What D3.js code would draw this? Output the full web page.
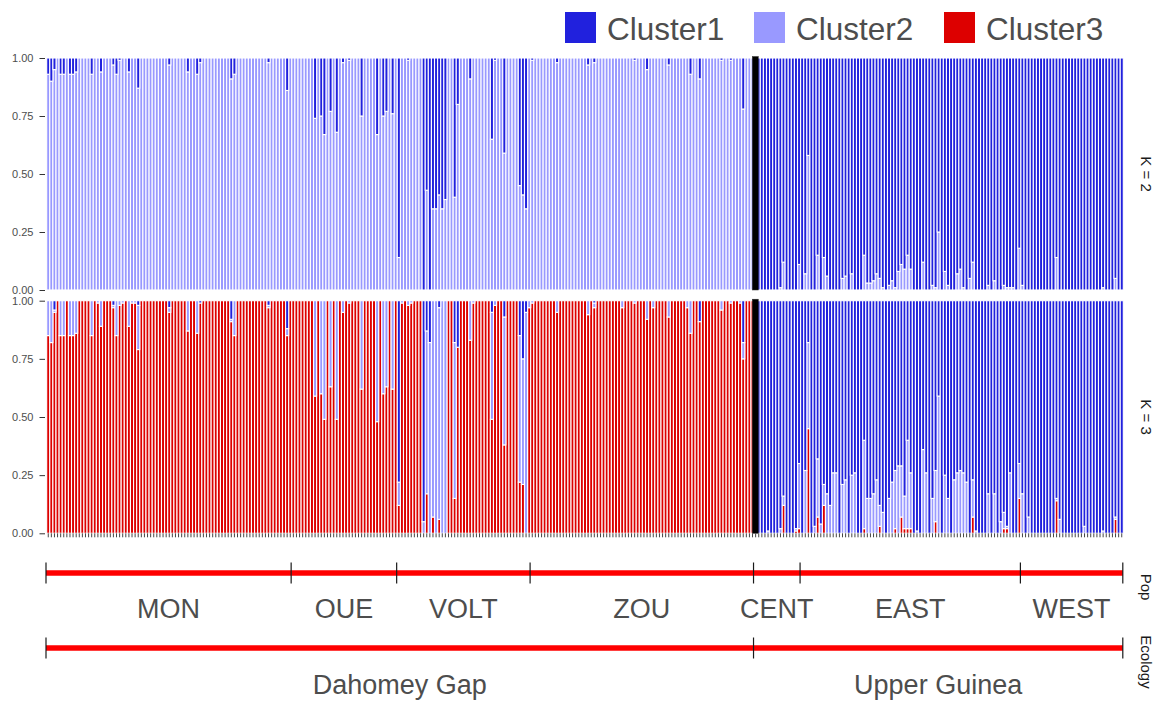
<!DOCTYPE html>
<html>
<head>
<meta charset="utf-8">
<script src="https://cdn.jsdelivr.net/npm/d3@7"></script>
<style>
  body { margin: 0; background: #fff; }
  svg { display: block; }
  text { font-family: "Liberation Sans", Arial, Helvetica, sans-serif; }
</style>
</head>
<body>
<svg id="chart" width="1165" height="702"></svg>
<script>
// ---- data ---------------------------------------------------------------
const clusterNames = ["Cluster1", "Cluster2", "Cluster3"];
const clusterColors = ["#2121DD", "#9999FF", "#DD0000"];
const popNames = ["MON", "OUE", "VOLT", "ZOU", "CENT", "EAST", "WEST"];
const popSizes = [79, 34, 43, 72, 15, 71, 33];
const ecoNames = ["Dahomey Gap", "Upper Guinea"];
const ecoSizes = [228, 119];
const yTickValues = [0, 0.25, 0.5, 0.75, 1];
const panelLabels = ["K = 2", "K = 3"];

// K = 2 membership, one value per individual (MON, OUE, VOLT, ZOU, CENT, EAST, WEST)
const k2Cluster1 = [
  0.07,0.10,0.05,0,0.07,0.07,0,0.07,0.07,0.06, 0,0,0,0,0.07,0,0,0.06,0,0,
  0,0.03,0.07,0.01,0,0,0.06,0,0,0.13, 0,0,0,0,0,0,0,0,0,0.03,
  0,0,0,0,0,0.06,0,0,0.07,0.02, 0,0,0,0,0,0,0,0,0,0.09,
  0.07,0,0,0,0,0,0,0,0,0, 0,0.02,0,0,0,0,0,0.14,0,
  0,0,0,0,0,0,0,0.26,0,0.25, 0.33,0,0.23,0,0.32,0,0.02,0,0.01,0,
  0,0,0.25,0,0,0,0,0.33,0,0.25, 0.23,0,0.24,0,
  0.86,0,0,0.01,0,0,0,0,1,0.57, 1,0.65,0.65,0.59,0.65,0.61,0,0,0.60,0.20,
  0,0,0,0.09,0,0,0,0,0,0, 0.35,0.01,0,0,0.41,0,0,0,0,0.55, 0.59,0.65,0,
  0.01,0,0,0,0,0,0,0,0.02,0, 0,0,0,0,0,0,0,0,0.03,0,
  0.02,0,0,0,0,0,0,0,0,0, 0,0,0,0.01,0,0,0,0.05,0,0,
  0,0,0,0,0.03,0,0,0,0,0, 0,0.07,0,0,0.09,0,0,0,0,0,
  0,0.01,0,0,0.01,0,0,0,0.22,0, 0,0,
  1,1,1,1,1,1,1,1,0.99,0.88, 1,1,1,1,0.89,
  1,0.93,0.42,1,1,0.85,1,0.86,0.94,1, 1,1,1,0.95,0.94,1,0.93,1,1,1,
  0.85,0.97,0.97,0.96,0.93,0.95,0.99,1,0.98,0.96, 0.99,0.92,0.89,0.91,0.85,0.91,1,1,1,0.88,
  1,1,0.98,0.99,0.75,1,0.92,0.98,1,1, 0.93,0.91,0.99,1,0.95,0.88,1,1,1,1,
  0.98,1,0.96,1,1,0.98,0.99,0.99,0.99,1, 0.82,
  0.98,1,1,1,1,1,1,1,1,1, 1,0.86,1,1,1,1,1,1,1,1,
  1,1,1,1,1,1,0.99,1,1,1, 0.95,1,1
];
const k2Cluster2 = [
  0.93,0.90,0.95,1,0.93,0.93,1,0.93,0.93,0.94, 1,1,1,1,0.93,1,1,0.94,1,1,
  1,0.97,0.93,0.99,1,1,0.94,1,1,0.87, 1,1,1,1,1,1,1,1,1,0.97,
  1,1,1,1,1,0.94,1,1,0.93,0.98, 1,1,1,1,1,1,1,1,1,0.91,
  0.93,1,1,1,1,1,1,1,1,1, 1,0.98,1,1,1,1,1,0.86,1,
  1,1,1,1,1,1,1,0.74,1,0.75, 0.67,1,0.77,1,0.68,1,0.98,1,0.99,1,
  1,1,0.75,1,1,1,1,0.67,1,0.75, 0.77,1,0.76,1,
  0.14,1,1,0.99,1,1,1,1,0,0.43, 0,0.35,0.35,0.41,0.35,0.39,1,1,0.40,0.80,
  1,1,1,0.91,1,1,1,1,1,1, 0.65,0.99,1,1,0.59,1,1,1,1,0.45, 0.41,0.35,1,
  0.99,1,1,1,1,1,1,1,0.98,1, 1,1,1,1,1,1,1,1,0.97,1,
  0.98,1,1,1,1,1,1,1,1,1, 1,1,1,0.99,1,1,1,0.95,1,1,
  1,1,1,1,0.97,1,1,1,1,1, 1,0.93,1,1,0.91,1,1,1,1,1,
  1,0.99,1,1,0.99,1,1,1,0.78,1, 1,1,
  0,0,0,0,0,0,0,0,0.01,0.12, 0,0,0,0,0.11,
  0,0.07,0.58,0,0,0.15,0,0.14,0.06,0, 0,0,0,0.05,0.06,0,0.07,0,0,0,
  0.15,0.03,0.03,0.04,0.07,0.05,0.01,0,0.02,0.04, 0.01,0.08,0.11,0.09,0.15,0.09,0,0,0,0.12,
  0,0,0.02,0.01,0.25,0,0.08,0.02,0,0, 0.07,0.09,0.01,0,0.05,0.12,0,0,0,0,
  0.02,0,0.04,0,0,0.02,0.01,0.01,0.01,0, 0.18,
  0.02,0,0,0,0,0,0,0,0,0, 0,0.14,0,0,0,0,0,0,0,0,
  0,0,0,0,0,0,0.01,0,0,0, 0.05,0,0
];

// K = 3 membership
const k3Cluster1 = [
  0,0,0.04,0,0,0,0,0,0,0, 0,0,0,0,0,0,0,0,0,0,
  0,0.02,0,0,0,0,0,0,0,0.02, 0,0,0,0,0,0,0,0,0,0.03,
  0,0,0,0,0,0,0,0,0,0.01, 0,0,0,0,0,0,0,0,0,0.08,
  0,0,0,0,0,0,0,0,0,0, 0,0.02,0,0,0,0,0,0.12,0,
  0,0,0,0,0,0,0,0,0,0, 0,0,0,0,0,0,0,0,0,0,
  0,0,0,0,0,0,0,0,0,0, 0,0,0,0,
  0.78,0,0,0,0,0,0,0,0.95,0.13, 0.18,0,0,0.03,0,0,0,0,0.18,0.20,
  0,0,0,0,0,0,0,0,0,0, 0.05,0,0,0,0.07,0,0,0,0,0.15, 0.25,0.05,0,
  0,0,0,0,0,0,0,0,0,0, 0,0,0,0,0,0,0,0,0,0,
  0.01,0,0,0,0,0,0,0,0,0, 0,0,0,0,0,0,0,0,0,0,
  0,0,0,0,0,0,0,0,0,0, 0,0,0,0,0.09,0,0,0,0,0,
  0,0,0,0,0,0,0,0,0.18,0, 0,0,
  1,1,1,1,0.99,1,1,1,0.98,0.84, 1,1,1,0.98,0.70,
  1,0.73,0.18,1,0.97,0.68,0.96,0.79,0.83,0.88, 0.74,0.74,1,0.79,0.77,1,0.75,0.74,1,1,
  0.60,0.85,0.85,0.83,0.77,0.88,0.91,1,0.85,0.78, 0.73,0.71,0.71,0.84,0.60,0.74,1,0.99,1,0.64,
  0.74,1,0.85,0.73,0.41,1,0.75,0.85,1,0.77, 0.74,0.73,0.74,0.78,1,0.77,0.99,1,1,1,
  0.83,1,0.83,1,0.95,0.91,0.97,0.74,1,1, 0.70,
  0.83,1,0.93,1,1,1,1,1,1,1, 1,0.85,0.94,1,1,1,1,1,1,1,
  0.97,1,1,1,1,1,0.99,1,1,1, 0.93,1,1
];
const k3Cluster2 = [
  0.15,0.18,0.01,0,0.15,0.15,0,0.15,0.15,0.14, 0,0,0,0,0.15,0,0.01,0.11,0,0,
  0,0.01,0.15,0.02,0.01,0,0.11,0.01,0.01,0.19, 0,0,0,0,0,0,0,0,0,0.02,
  0,0,0,0,0,0.13,0,0,0.14,0, 0,0,0,0,0,0,0,0,0,0.01,
  0.15,0,0,0,0,0,0,0,0,0, 0,0.01,0,0,0,0,0,0.03,0,
  0,0,0,0,0,0,0,0.41,0,0.40, 0.51,0,0.37,0,0.51,0,0.05,0,0.01,0,
  0,0,0.38,0,0,0,0,0.52,0,0.40, 0.37,0,0.38,0,
  0.10,0.01,0,0.02,0.01,0,0,0,0.05,0.70, 0.82,0.93,1,0.91,1,1,0,0,0.67,0,
  0,0,0,0.17,0.01,0,0,0,0,0, 0.46,0.02,0,0,0.55,0,0,0,0,0.63, 0.54,0.95,0.03,
  0.01,0,0,0,0,0,0,0,0.05,0, 0,0,0,0,0,0,0,0,0.06,0,
  0.02,0,0,0,0,0,0,0,0,0.03, 0,0,0,0.01,0,0,0,0.08,0,0.03,
  0,0,0,0,0.07,0,0,0,0,0, 0.03,0.14,0,0,0,0,0,0,0,0,
  0,0.04,0,0,0.01,0,0,0.01,0.07,0, 0,0,
  0,0,0,0,0.01,0,0,0,0.02,0.04, 0,0,0,0.01,0.28,
  0,0.27,0.37,0,0.03,0.25,0.04,0.09,0.17,0.12, 0.26,0.26,0,0.21,0.23,0,0.25,0.26,0,0,
  0.38,0.15,0.15,0.17,0.23,0.09,0.09,0,0.15,0.22, 0.25,0.29,0.22,0.14,0.38,0.24,0,0.01,0,0.36,
  0.26,0,0.15,0.22,0.59,0,0.25,0.15,0,0.23, 0.26,0.27,0.26,0.22,0,0.16,0.01,0,0,0,
  0.17,0,0.17,0,0.05,0.07,0.01,0.26,0,0, 0.15,
  0.17,0,0.07,0,0,0,0,0,0,0, 0,0.01,0.06,0,0,0,0,0,0,0,
  0.03,0,0,0,0,0,0.01,0,0,0, 0.01,0,0
];
const k3Cluster3 = [
  0.85,0.82,0.95,1,0.85,0.85,1,0.85,0.85,0.86, 1,1,1,1,0.85,1,0.99,0.89,1,1,
  1,0.97,0.85,0.98,0.99,1,0.89,0.99,0.99,0.79, 1,1,1,1,1,1,1,1,1,0.95,
  1,1,1,1,1,0.87,1,1,0.86,0.99, 1,1,1,1,1,1,1,1,1,0.91,
  0.85,1,1,1,1,1,1,1,1,1, 1,0.97,1,1,1,1,1,0.85,1,
  1,1,1,1,1,1,1,0.59,1,0.60, 0.49,1,0.63,1,0.49,1,0.95,1,0.99,1,
  1,1,0.62,1,1,1,1,0.48,1,0.60, 0.63,1,0.62,1,
  0.12,0.99,1,0.98,0.99,1,1,1,0,0.17, 0,0.07,0,0.06,0,0,1,1,0.15,0.80,
  1,1,1,0.83,0.99,1,1,1,1,1, 0.49,0.98,1,1,0.38,1,1,1,1,0.22, 0.21,0,0.97,
  0.99,1,1,1,1,1,1,1,0.95,1, 1,1,1,1,1,1,1,1,0.94,1,
  0.97,1,1,1,1,1,1,1,1,0.97, 1,1,1,0.99,1,1,1,0.92,1,0.97,
  1,1,1,1,0.93,1,1,1,1,1, 0.97,0.86,1,1,0.91,1,1,1,1,1,
  1,0.96,1,1,0.99,1,1,0.99,0.75,1, 1,1,
  0,0,0,0,0,0,0,0,0,0.12, 0,0,0,0.01,0.02,
  0,0,0.45,0,0,0.07,0,0.12,0,0, 0,0,0,0,0,0,0,0,0,0,
  0.02,0,0,0,0,0.03,0,0,0,0, 0.02,0,0.07,0.02,0.02,0.02,0,0,0,0,
  0,0,0,0.05,0,0,0,0,0,0, 0,0,0,0,0,0.07,0,0,0,0,
  0,0,0,0,0,0.02,0.02,0,0,0, 0.15,
  0,0,0,0,0,0,0,0,0,0, 0,0.14,0,0,0,0,0,0,0,0,
  0,0,0,0,0,0,0,0,0,0, 0.06,0,0
];

// ---- layout -------------------------------------------------------------
const svg = d3.select("#chart");
const N = k2Cluster1.length;
const ids = d3.range(N);
const plotLeft = 46.7, plotRight = 1123.3;
const x = d3.scaleBand().domain(ids).range([plotLeft, plotRight]).padding(0);
const color = d3.scaleOrdinal().domain(clusterNames).range(clusterColors);

const panels = [
  { label: panelLabels[0], keys: ["Cluster2", "Cluster1"],
    series: { Cluster1: k2Cluster1, Cluster2: k2Cluster2 },
    y: d3.scaleLinear().domain([0, 1]).range([290, 58]) },
  { label: panelLabels[1], keys: ["Cluster3", "Cluster2", "Cluster1"],
    series: { Cluster1: k3Cluster1, Cluster2: k3Cluster2, Cluster3: k3Cluster3 },
    y: d3.scaleLinear().domain([0, 1]).range([533.3, 300.7]) }
];

// index of the first Upper Guinea individual (ecological boundary)
const ecoBoundary = ecoSizes[0];

panels.forEach((p, pi) => {
  const rows = ids.map(i => {
    const r = { id: i };
    p.keys.forEach(k => { r[k] = p.series[k][i]; });
    return r;
  });
  const stacked = d3.stack().keys(p.keys)(rows);
  const g = svg.append("g").attr("class", "panel");

  g.selectAll("g.layer")
    .data(stacked)
    .join("g")
    .attr("class", "layer")
    .attr("fill", d => color(d.key))
    .selectAll("rect")
    .data(d => d.filter(s => s[1] - s[0] > 0.0001))
    .join("rect")
    .attr("x", d => x(d.data.id))
    .attr("width", x.bandwidth())
    .attr("y", d => p.y(d[1]))
    .attr("height", d => p.y(d[0]) - p.y(d[1]))
    .attr("stroke", "#ffffff")
    .attr("stroke-width", 1.1);

  // thick separator between the two ecological zones
  const [y0, y1] = p.y.range();
  g.append("rect")
    .attr("x", x(ecoBoundary) + 1.2 - 3)
    .attr("width", 6)
    .attr("y", y1 - 1.5)
    .attr("height", y0 - y1 + 1.5)
    .attr("fill", "#000")
    .attr("stroke", "#333")
    .attr("stroke-width", 0.5);

  // y axis
  const ax = svg.append("g")
    .attr("transform", "translate(45,0)")
    .call(d3.axisLeft(p.y).tickValues(yTickValues).tickFormat(d3.format(".2f"))
      .tickSize(5.5).tickPadding(6));
  ax.select(".domain").remove();
  ax.selectAll(".tick line").attr("stroke", "#333333").attr("stroke-width", 1);
  ax.selectAll(".tick text").attr("fill", "#4d4d4d").style("font-size", "11px")
    .style("font-family", "'Liberation Sans', Arial, sans-serif");

  // facet strip label on the right
  svg.append("text")
    .attr("transform", `translate(1146,${(y0 + y1) / 2}) rotate(90)`)
    .attr("text-anchor", "middle")
    .attr("dominant-baseline", "central")
    .attr("fill", "#1a1a1a")
    .style("font-size", "15px")
    .text(p.label);
});

// one tick per individual under the lower panel
const xAxis = svg.append("g")
  .attr("transform", "translate(0,533.3)")
  .call(d3.axisBottom(x).tickSize(4).tickFormat(""));
xAxis.select(".domain").remove();
xAxis.selectAll(".tick line").attr("stroke", "#444").attr("stroke-width", 1);

// ---- population / ecology bars -----------------------------------------
const xs = d3.scaleLinear().domain([0, N]).range([46, 1122.8]);

function groupStrip(names, sizes, lineY, labelY, title, titleY) {
  const starts = d3.cumsum([0].concat(sizes.slice(0, -1)));
  const groups = names.map((n, i) => ({ name: n, start: starts[i], end: starts[i] + sizes[i] }));
  const g = svg.append("g");
  g.selectAll("line.seg")
    .data(groups)
    .join("line")
    .attr("class", "seg")
    .attr("x1", d => xs(d.start)).attr("x2", d => xs(d.end))
    .attr("y1", lineY).attr("y2", lineY)
    .attr("stroke", "#ff0000").attr("stroke-width", 5.5);
  const cuts = groups.map(d => d.start).concat([N]);
  g.selectAll("line.cut")
    .data(cuts)
    .join("line")
    .attr("class", "cut")
    .attr("x1", d => xs(d)).attr("x2", d => xs(d))
    .attr("y1", lineY - 10.5).attr("y2", lineY + 10.5)
    .attr("stroke", "#1a1a1a").attr("stroke-width", 1.2);
  g.selectAll("text.grp")
    .data(groups)
    .join("text")
    .attr("class", "grp")
    .attr("x", d => xs((d.start + d.end) / 2))
    .attr("y", labelY)
    .attr("text-anchor", "middle")
    .attr("fill", "#4d4d4d")
    .style("font-size", "27px")
    .text(d => d.name);
  g.append("text")
    .attr("transform", `translate(1146,${titleY}) rotate(90)`)
    .attr("text-anchor", "middle")
    .attr("dominant-baseline", "central")
    .attr("fill", "#1a1a1a")
    .style("font-size", "15px")
    .text(title);
}
groupStrip(popNames, popSizes, 573, 618, "Pop", 587);
groupStrip(ecoNames, ecoSizes, 648, 694, "Ecology", 662);

// ---- legend -------------------------------------------------------------
const legendX = [565, 754, 944];
const legend = svg.append("g").selectAll("g")
  .data(clusterNames)
  .join("g")
  .attr("transform", (d, i) => `translate(${legendX[i]},12)`);
legend.append("rect")
  .attr("width", 31).attr("height", 31)
  .attr("fill", d => color(d));
legend.append("text")
  .attr("x", 42).attr("y", 27.5)
  .attr("fill", "#4d4d4d")
  .style("font-size", "31.5px")
  .text(d => d);
</script>
</body>
</html>
